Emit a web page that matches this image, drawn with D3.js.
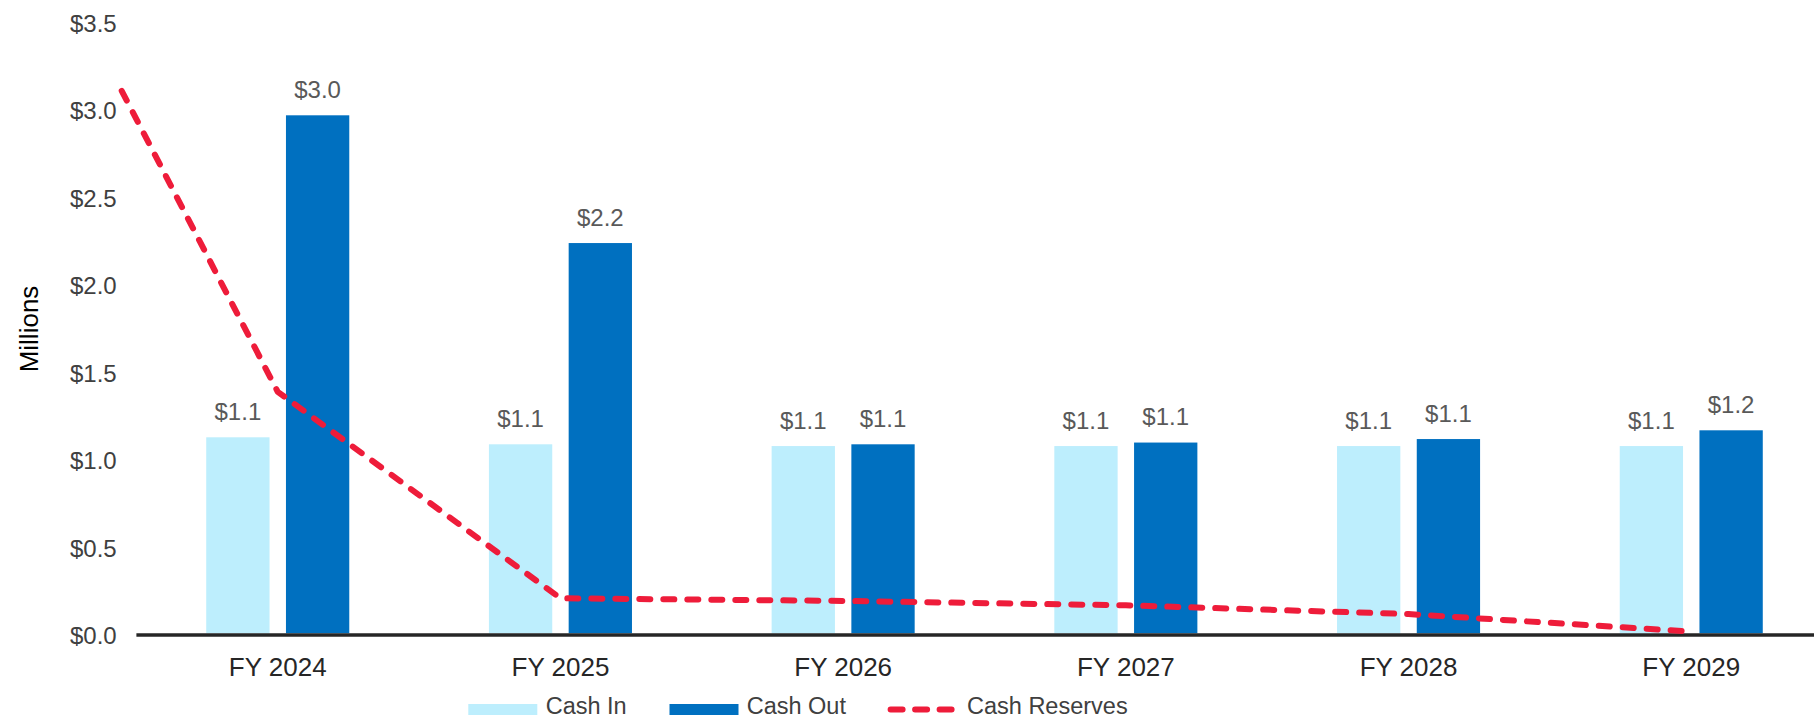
<!DOCTYPE html>
<html lang="en">
<head>
  <meta charset="utf-8">
  <title>Cash In / Cash Out / Cash Reserves</title>
  <script src="https://d3js.org/d3.v7.min.js"></script>
  <style>
    body { margin: 0; background: #fff; }
    text { font-family: "Liberation Sans", Arial, sans-serif; }
  </style>
</head>
<body>
  <script type="text/javascript">
  // data, in millions
  var years = ["FY 2024", "FY 2025", "FY 2026", "FY 2027", "FY 2028", "FY 2029"];
  var cashIn = [1.12, 1.08, 1.07, 1.07, 1.07, 1.07];
  var cashOut = [2.96, 2.23, 1.08, 1.09, 1.11, 1.16];
  var openingReserve = 3.1;
  var cashReserves = [1.38, 0.20, 0.185, 0.16, 0.11, 0.01];
  var yTicks = [0, 0.5, 1, 1.5, 2, 2.5, 3, 3.5];

  var w = 1814;
  var h = 719;
  var left = 136.4;        // start of category axis
  var lineStart = 121.7;   // reserves line starts a little left of the axis
  var baseline = 633.3;

  var svg = d3.select("body")
    .append("svg")
    .attr("width", w)
    .attr("height", h);

  var x = d3.scaleBand()
    .domain(years)
    .range([left, left + 282.7 * 6])
    .paddingInner(0.494)
    .paddingOuter(0.247);

  var xs = d3.scaleBand()
    .domain(["in", "out"])
    .range([0, x.bandwidth()])
    .paddingInner(0.206);

  var y = d3.scaleLinear()
    .domain([0, 3.5])
    .range([baseline, baseline - 612.5]);

  var fmt = d3.format("$.1f");

  // y axis labels (no axis line)
  var yAxis = svg.append("g")
    .attr("transform", "translate(" + 116.7 + ",0)")
    .call(d3.axisLeft(y).tickValues(yTicks).tickFormat(fmt).tickSize(0).tickPadding(0));
  yAxis.select(".domain").remove();
  yAxis.selectAll("text")
    .attr("dy", null)
    .attr("y", 10.6)
    .attr("font-size", "24px")
    .attr("font-family", null)
    .attr("fill", "#404040");

  svg.append("text")
    .attr("transform", "translate(38.3,329) rotate(-90)")
    .attr("text-anchor", "middle")
    .attr("font-size", "26px")
    .attr("fill", "#000")
    .text("Millions");

  // bars
  var series = [
    { key: "in", values: cashIn, color: "#bdeefd" },
    { key: "out", values: cashOut, color: "#0070c0" }
  ];

  series.forEach(function(s){
    svg.append("g").selectAll("rect")
      .data(s.values)
      .enter()
      .append("rect")
      .attr("x", function(d, i){ return x(years[i]) + xs(s.key); })
      .attr("y", function(d){ return y(d); })
      .attr("width", xs.bandwidth())
      .attr("height", function(d){ return y(0) - y(d); })
      .attr("fill", s.color);

    svg.append("g").selectAll("text")
      .data(s.values)
      .enter()
      .append("text")
      .attr("x", function(d, i){ return x(years[i]) + xs(s.key) + xs.bandwidth() / 2; })
      .attr("y", function(d){ return y(d) - 17.3; })
      .attr("text-anchor", "middle")
      .attr("font-size", "24px")
      .attr("fill", "#595959")
      .text(function(d){ return fmt(d); });
  });

  // category axis
  svg.append("line")
    .attr("x1", left)
    .attr("x2", w)
    .attr("y1", baseline + 1.8)
    .attr("y2", baseline + 1.8)
    .attr("stroke", "#262626")
    .attr("stroke-width", 3.5);

  var xAxis = svg.append("g")
    .attr("transform", "translate(0," + baseline + ")")
    .call(d3.axisBottom(x).tickSize(0).tickPadding(0));
  xAxis.select(".domain").remove();
  xAxis.selectAll("text")
    .attr("dy", null)
    .attr("y", 42.4)
    .attr("font-size", "26px")
    .attr("font-family", null)
    .attr("fill", "#262626");

  // cash reserves line
  var linePts = [[lineStart, y(openingReserve)]];
  cashReserves.forEach(function(d, i){
    linePts.push([x(years[i]) + x.bandwidth() / 2, y(d)]);
  });

  svg.append("path")
    .attr("d", d3.line()(linePts))
    .attr("fill", "none")
    .attr("stroke", "#ee1c3a")
    .attr("stroke-width", 6)
    .attr("stroke-dasharray", "11,13")
    .attr("stroke-linecap", "round")
    .attr("stroke-linejoin", "round");

  // legend
  var legend = svg.append("g");
  var legendItems = [
    { label: "Cash In", color: "#bdeefd", type: "rect", sx: 468.3, tx: 545.7 },
    { label: "Cash Out", color: "#0070c0", type: "rect", sx: 669.5, tx: 746.7 },
    { label: "Cash Reserves", color: "#ee1c3a", type: "line", sx: 887.6, tx: 967 }
  ];
  legendItems.forEach(function(it){
    if (it.type == "rect"){
      legend.append("rect")
        .attr("x", it.sx)
        .attr("y", 704)
        .attr("width", 69)
        .attr("height", 11)
        .attr("fill", it.color);
    }
    else {
      legend.append("line")
        .attr("x1", it.sx + 3)
        .attr("x2", it.sx + 64)
        .attr("y1", 709.5)
        .attr("y2", 709.5)
        .attr("stroke", it.color)
        .attr("stroke-width", 6)
        .attr("stroke-dasharray", "12,12.5")
        .attr("stroke-linecap", "round");
    }
    legend.append("text")
      .attr("x", it.tx)
      .attr("y", 714)
      .attr("font-size", "23.5px")
      .attr("fill", "#404040")
      .text(it.label);
  });
  </script>
</body>
</html>
